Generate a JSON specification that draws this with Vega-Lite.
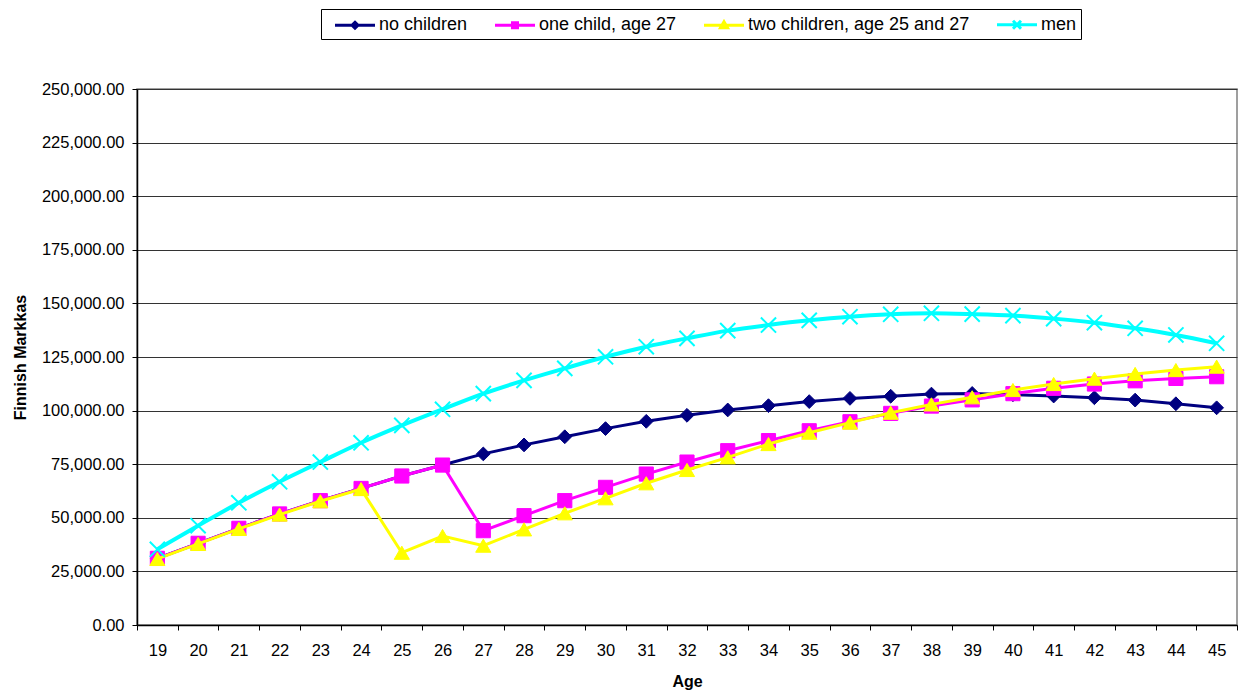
{
  "$schema": "https://vega.github.io/schema/vega-lite/v6.json",
  "width": 1100,
  "height": 536,
  "autosize": {"type": "none"},
  "padding": {"left": 137, "top": 89, "right": 4, "bottom": 67},
  "background": "white",
  "config": {
    "font": "Liberation Sans",
    "view": {"stroke": "#808080", "strokeWidth": 1.5},
    "axis": {"labelColor": "black", "titleColor": "black", "tickColor": "black", "domainColor": "black"}
  },
  "data": {
    "values": [
      {"age": 19, "series": "no children", "value": 31100},
      {"age": 20, "series": "no children", "value": 38100},
      {"age": 21, "series": "no children", "value": 45100},
      {"age": 22, "series": "no children", "value": 51800},
      {"age": 23, "series": "no children", "value": 58000},
      {"age": 24, "series": "no children", "value": 63700},
      {"age": 25, "series": "no children", "value": 69500},
      {"age": 26, "series": "no children", "value": 74600},
      {"age": 27, "series": "no children", "value": 79800},
      {"age": 28, "series": "no children", "value": 84000},
      {"age": 29, "series": "no children", "value": 87800},
      {"age": 30, "series": "no children", "value": 91600},
      {"age": 31, "series": "no children", "value": 95000},
      {"age": 32, "series": "no children", "value": 97800},
      {"age": 33, "series": "no children", "value": 100300},
      {"age": 34, "series": "no children", "value": 102300},
      {"age": 35, "series": "no children", "value": 104200},
      {"age": 36, "series": "no children", "value": 105700},
      {"age": 37, "series": "no children", "value": 106700},
      {"age": 38, "series": "no children", "value": 107700},
      {"age": 39, "series": "no children", "value": 108000},
      {"age": 40, "series": "no children", "value": 107400},
      {"age": 41, "series": "no children", "value": 106800},
      {"age": 42, "series": "no children", "value": 106000},
      {"age": 43, "series": "no children", "value": 104900},
      {"age": 44, "series": "no children", "value": 103200},
      {"age": 45, "series": "no children", "value": 101300},
      {"age": 19, "series": "one child, age 27", "value": 31100},
      {"age": 20, "series": "one child, age 27", "value": 38100},
      {"age": 21, "series": "one child, age 27", "value": 45100},
      {"age": 22, "series": "one child, age 27", "value": 51800},
      {"age": 23, "series": "one child, age 27", "value": 58000},
      {"age": 24, "series": "one child, age 27", "value": 63700},
      {"age": 25, "series": "one child, age 27", "value": 69500},
      {"age": 26, "series": "one child, age 27", "value": 74600},
      {"age": 27, "series": "one child, age 27", "value": 44000},
      {"age": 28, "series": "one child, age 27", "value": 51000},
      {"age": 29, "series": "one child, age 27", "value": 58000},
      {"age": 30, "series": "one child, age 27", "value": 64200},
      {"age": 31, "series": "one child, age 27", "value": 70400},
      {"age": 32, "series": "one child, age 27", "value": 76000},
      {"age": 33, "series": "one child, age 27", "value": 81300},
      {"age": 34, "series": "one child, age 27", "value": 86000},
      {"age": 35, "series": "one child, age 27", "value": 90600},
      {"age": 36, "series": "one child, age 27", "value": 94800},
      {"age": 37, "series": "one child, age 27", "value": 98700},
      {"age": 38, "series": "one child, age 27", "value": 102100},
      {"age": 39, "series": "one child, age 27", "value": 105000},
      {"age": 40, "series": "one child, age 27", "value": 107900},
      {"age": 41, "series": "one child, age 27", "value": 110400},
      {"age": 42, "series": "one child, age 27", "value": 112400},
      {"age": 43, "series": "one child, age 27", "value": 113900},
      {"age": 44, "series": "one child, age 27", "value": 115000},
      {"age": 45, "series": "one child, age 27", "value": 115800},
      {"age": 19, "series": "two children, age 25 and 27", "value": 30800},
      {"age": 20, "series": "two children, age 25 and 27", "value": 37800},
      {"age": 21, "series": "two children, age 25 and 27", "value": 44800},
      {"age": 22, "series": "two children, age 25 and 27", "value": 51500},
      {"age": 23, "series": "two children, age 25 and 27", "value": 57700},
      {"age": 24, "series": "two children, age 25 and 27", "value": 63400},
      {"age": 25, "series": "two children, age 25 and 27", "value": 33700},
      {"age": 26, "series": "two children, age 25 and 27", "value": 41500},
      {"age": 27, "series": "two children, age 25 and 27", "value": 37000},
      {"age": 28, "series": "two children, age 25 and 27", "value": 44600},
      {"age": 29, "series": "two children, age 25 and 27", "value": 52100},
      {"age": 30, "series": "two children, age 25 and 27", "value": 59100},
      {"age": 31, "series": "two children, age 25 and 27", "value": 66100},
      {"age": 32, "series": "two children, age 25 and 27", "value": 72300},
      {"age": 33, "series": "two children, age 25 and 27", "value": 78200},
      {"age": 34, "series": "two children, age 25 and 27", "value": 84400},
      {"age": 35, "series": "two children, age 25 and 27", "value": 89700},
      {"age": 36, "series": "two children, age 25 and 27", "value": 94400},
      {"age": 37, "series": "two children, age 25 and 27", "value": 99000},
      {"age": 38, "series": "two children, age 25 and 27", "value": 102900},
      {"age": 39, "series": "two children, age 25 and 27", "value": 106200},
      {"age": 40, "series": "two children, age 25 and 27", "value": 109600},
      {"age": 41, "series": "two children, age 25 and 27", "value": 112400},
      {"age": 42, "series": "two children, age 25 and 27", "value": 114900},
      {"age": 43, "series": "two children, age 25 and 27", "value": 117100},
      {"age": 44, "series": "two children, age 25 and 27", "value": 118900},
      {"age": 45, "series": "two children, age 25 and 27", "value": 120500},
      {"age": 19, "series": "men", "value": 35300},
      {"age": 20, "series": "men", "value": 46300},
      {"age": 21, "series": "men", "value": 57000},
      {"age": 22, "series": "men", "value": 66800},
      {"age": 23, "series": "men", "value": 76000},
      {"age": 24, "series": "men", "value": 85000},
      {"age": 25, "series": "men", "value": 93100},
      {"age": 26, "series": "men", "value": 100600},
      {"age": 27, "series": "men", "value": 107900},
      {"age": 28, "series": "men", "value": 114100},
      {"age": 29, "series": "men", "value": 119700},
      {"age": 30, "series": "men", "value": 125100},
      {"age": 31, "series": "men", "value": 129800},
      {"age": 32, "series": "men", "value": 133700},
      {"age": 33, "series": "men", "value": 137300},
      {"age": 34, "series": "men", "value": 139900},
      {"age": 35, "series": "men", "value": 142100},
      {"age": 36, "series": "men", "value": 143800},
      {"age": 37, "series": "men", "value": 144900},
      {"age": 38, "series": "men", "value": 145400},
      {"age": 39, "series": "men", "value": 145000},
      {"age": 40, "series": "men", "value": 144300},
      {"age": 41, "series": "men", "value": 142900},
      {"age": 42, "series": "men", "value": 141000},
      {"age": 43, "series": "men", "value": 138400},
      {"age": 44, "series": "men", "value": 135300},
      {"age": 45, "series": "men", "value": 131400}
    ]
  },
  "encoding": {
    "x": {
      "field": "age",
      "type": "ordinal",
      "title": "Age",
      "axis": {
        "labelAngle": 0,
        "labelFontSize": 16.5,
        "labelPadding": 12,
        "tickSize": 5,
        "tickBand": "extent",
        "domainWidth": 1.5,
        "titleFontSize": 16,
        "titleFontWeight": "bold",
        "titlePadding": 15,
        "grid": false
      }
    },
    "y": {
      "field": "value",
      "type": "quantitative",
      "title": "Finnish Markkas",
      "scale": {"domain": [0, 250000], "nice": false},
      "axis": {
        "values": [0, 25000, 50000, 75000, 100000, 125000, 150000, 175000, 200000, 225000, 250000],
        "format": ",.2f",
        "labelFontSize": 16.5,
        "labelPadding": 8,
        "tickSize": 5,
        "domainWidth": 1.5,
        "grid": true,
        "gridColor": "#333333",
        "gridWidth": 1,
        "titleFontSize": 16,
        "titleFontWeight": "bold",
        "titlePadding": 13
      }
    },
    "color": {
      "field": "series",
      "type": "nominal",
      "scale": {
        "domain": ["no children", "one child, age 27", "two children, age 25 and 27", "men"],
        "range": ["#000080", "#FF00FF", "#FFFF00", "#00FFFF"]
      },
      "legend": {
        "orient": "none",
        "legendX": 184,
        "legendY": -80,
        "direction": "horizontal",
        "title": null,
        "symbolSize": 400,
        "labelFontSize": 18,
        "labelColor": "black",
        "labelOffset": 31,
        "labelLimit": 500,
        "columnPadding": 17,
        "padding": 4,
        "strokeColor": "black",
        "fillColor": "white",
        "symbolStrokeWidth": 3,
        "encode": {
          "symbols": {
            "update": {
              "shape": {"signal": "datum.value === 'no children' ? 'M-0.15,0L3.85,0M1.85,-0.3L2.15,0L1.85,0.3L1.55,0Z' : datum.value === 'one child, age 27' ? 'M-0.15,0L3.85,0M1.6,-0.25L2.1,-0.25L2.1,0.25L1.6,0.25Z' : datum.value === 'men' ? 'M-0.15,0L3.85,0M1.45,-0.4L2.25,0.4M1.45,0.4L2.25,-0.4' : 'M-0.15,0L3.85,0M1.85,-0.35L2.2,0.25L1.5,0.25Z'"},
              "fill": {"scale": "color", "field": "value"},
              "stroke": {"scale": "color", "field": "value"},
              "strokeWidth": {"value": 3},
              "opacity": {"value": 1}
            }
          }
        }
      }
    }
  },
  "layer": [
    {"transform": [{"filter": "datum.series === 'no children'"}], "mark": {"type": "line", "strokeWidth": 3}},
    {"transform": [{"filter": "datum.series === 'no children'"}], "mark": {"type": "point", "shape": "diamond", "filled": true, "size": 190, "opacity": 1, "strokeWidth": 1}, "encoding": {"stroke": {"value": "#000080"}}},
    {"transform": [{"filter": "datum.series === 'one child, age 27'"}], "mark": {"type": "line", "strokeWidth": 3}},
    {"transform": [{"filter": "datum.series === 'one child, age 27'"}], "mark": {"type": "point", "shape": "square", "filled": true, "size": 200, "opacity": 1, "strokeWidth": 1}, "encoding": {"stroke": {"value": "#FF00FF"}}},
    {"transform": [{"filter": "datum.series === 'two children, age 25 and 27'"}], "mark": {"type": "line", "strokeWidth": 3}},
    {"transform": [{"filter": "datum.series === 'two children, age 25 and 27'"}], "mark": {"type": "point", "shape": "triangle-up", "filled": true, "size": 230, "opacity": 1, "strokeWidth": 1}, "encoding": {"stroke": {"value": "#FFFF00"}}},
    {"transform": [{"filter": "datum.series === 'men'"}], "mark": {"type": "line", "strokeWidth": 4, "interpolate": "monotone"}},
    {"transform": [{"filter": "datum.series === 'men'"}], "mark": {"type": "point", "shape": "M-1,-1L1,1M-1,1L1,-1", "filled": true, "size": 230, "opacity": 1, "strokeWidth": 2}, "encoding": {"stroke": {"value": "#00FFFF"}}}
  ]
}
